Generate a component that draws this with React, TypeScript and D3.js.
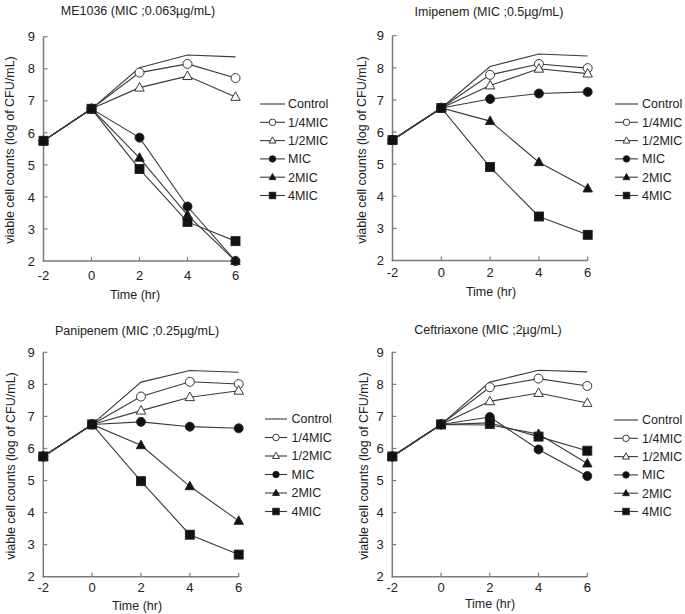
import React from "react";
import * as d3 from "d3";

// ---- data ----
const times = [-2, 0, 2, 4, 6];
const seriesNames = ["Control", "1/4MIC", "1/2MIC", "MIC", "2MIC", "4MIC"];
const xTicks = [-2, 0, 2, 4, 6];
const yTicks = [2, 3, 4, 5, 6, 7, 8, 9];

const titles = [
  "ME1036 (MIC ;0.063µg/mL)",
  "Imipenem (MIC ;0.5µg/mL)",
  "Panipenem (MIC ;0.25µg/mL)",
  "Ceftriaxone (MIC ;2µg/mL)",
];

const me1036 = [
  [5.75, 6.75, 8.03, 8.43, 8.37],
  [5.75, 6.75, 7.88, 8.15, 7.71],
  [5.75, 6.75, 7.41, 7.77, 7.12],
  [5.75, 6.75, 5.85, 3.7, 2.0],
  [5.75, 6.75, 5.22, 3.43, 2.0],
  [5.75, 6.75, 4.87, 3.22, 2.62],
];
const imipenem = [
  [5.75, 6.75, 8.04, 8.43, 8.37],
  [5.75, 6.75, 7.78, 8.12, 7.99],
  [5.75, 6.75, 7.45, 7.97, 7.82],
  [5.75, 6.75, 7.03, 7.2, 7.25],
  [5.75, 6.75, 6.34, 5.06, 4.24],
  [5.75, 6.75, 4.91, 3.37, 2.8],
];
const panipenem = [
  [5.75, 6.75, 8.07, 8.43, 8.38],
  [5.75, 6.75, 7.62, 8.08, 8.01],
  [5.75, 6.75, 7.18, 7.6, 7.8],
  [5.75, 6.75, 6.83, 6.68, 6.63],
  [5.75, 6.75, 6.1, 4.82, 3.74],
  [5.75, 6.75, 4.98, 3.31, 2.69],
];
const ceftriaxone = [
  [5.75, 6.75, 8.07, 8.44, 8.39],
  [5.75, 6.75, 7.91, 8.18, 7.95],
  [5.75, 6.75, 7.47, 7.73, 7.42],
  [5.75, 6.75, 6.98, 5.97, 5.14],
  [5.75, 6.75, 6.73, 6.45, 5.53],
  [5.75, 6.75, 6.8, 6.37, 5.93],
];
const datasets = [me1036, imipenem, panipenem, ceftriaxone];

// ---- layout (per panel) ----
type Layout = {
  x0: number; x1: number; yTop: number; yBot: number;
  titleX: number; titleY: number;
  tickLabelY: number; timeX: number; timeY: number;
  yLabelX: number; yLabelY: number;
  legLine0: number; legLine1: number; legText: number; legY: number; legStep: number;
};

const layouts: Layout[] = [
  { x0: 43.5, x1: 235.5, yTop: 36.7, yBot: 261, titleX: 138, titleY: 14.5, tickLabelY: 279.5, timeX: 135, timeY: 298.5, yLabelX: 13.5, yLabelY: 150, legLine0: 260, legLine1: 285, legText: 288, legY: 104, legStep: 18.3 },
  { x0: 392.5, x1: 587.7, yTop: 35.7, yBot: 260.5, titleX: 489, titleY: 15.5, tickLabelY: 276.5, timeX: 491, timeY: 295.5, yLabelX: 366, yLabelY: 150, legLine0: 615, legLine1: 638, legText: 642, legY: 104, legStep: 18.3 },
  { x0: 43.3, x1: 238.7, yTop: 352.3, yBot: 576.7, titleX: 137, titleY: 334.5, tickLabelY: 591.5, timeX: 137, timeY: 609.5, yLabelX: 14.5, yLabelY: 466, legLine0: 265, legLine1: 287, legText: 291.5, legY: 419, legStep: 18.5 },
  { x0: 392.3, x1: 587.3, yTop: 352.3, yBot: 576.7, titleX: 488, titleY: 333.5, tickLabelY: 591.5, timeX: 490, timeY: 607.5, yLabelX: 367.5, yLabelY: 466, legLine0: 614, legLine1: 638, legText: 642, legY: 420, legStep: 18.3 },
];

const FONT = "'Liberation Sans', Arial, Helvetica, sans-serif";
const LINE = "#3a3a3a";
const AXIS = "#7a7a7a";

function Marker({ kind, x, y, s }: { kind: number; x: number; y: number; s: number }) {
  // kind: 1 open circle, 2 open triangle, 3 filled circle, 4 filled triangle, 5 filled square
  if (kind === 0) return null;
  const filled = kind >= 3;
  const fill = filled ? "#111" : "#fff";
  const stroke = "#222";
  if (kind === 1 || kind === 3) {
    return <circle cx={x} cy={y} r={s * 0.5} fill={fill} stroke={stroke} strokeWidth={0.9} />;
  }
  if (kind === 2 || kind === 4) {
    const h = s * 0.95;
    const w = s * 1.05;
    const pts = `${x},${y - h * 0.6} ${x - w / 2},${y + h * 0.4} ${x + w / 2},${y + h * 0.4}`;
    return <polygon points={pts} fill={fill} stroke={stroke} strokeWidth={0.9} />;
  }
  return <rect x={x - s / 2} y={y - s / 2} width={s} height={s} fill={fill} stroke={stroke} strokeWidth={0.9} />;
}

function Panel({ idx }: { idx: number }) {
  const L = layouts[idx];
  const data = datasets[idx];
  const x = d3.scaleLinear().domain([-2, 6]).range([L.x0, L.x1]);
  const y = d3.scaleLinear().domain([2, 9]).range([L.yBot, L.yTop]);
  const line = d3
    .line<number>()
    .x((_, i) => x(times[i]))
    .y((v) => y(v));

  return (
    <g>
      <text x={L.titleX} y={L.titleY} textAnchor="middle" fontSize={12.5} fontFamily={FONT} fill="#222">
        {titles[idx]}
      </text>
      {/* axes */}
      <line x1={x(-2)} x2={x(-2)} y1={y(9)} y2={y(2) + 0.75} stroke={AXIS} strokeWidth={1.5} />
      <line x1={x(-2) - 0.75} x2={x(6)} y1={y(2)} y2={y(2)} stroke={AXIS} strokeWidth={1.5} />
      {yTicks.map((t) => (
        <g key={"y" + t}>
          {t !== 2 && <line x1={x(-2)} x2={x(-2) + 4} y1={y(t)} y2={y(t)} stroke={AXIS} strokeWidth={1.2} />}
          <text x={x(-2) - 8.5} y={y(t) + 4.7} textAnchor="end" fontSize={13} fontFamily={FONT} fill="#222">
            {t}
          </text>
        </g>
      ))}
      {xTicks.map((t) => (
        <g key={"x" + t}>
          {t !== -2 && <line x1={x(t)} x2={x(t)} y1={y(2)} y2={y(2) - 4} stroke={AXIS} strokeWidth={1.2} />}
          <text x={x(t)} y={L.tickLabelY} textAnchor="middle" fontSize={13} fontFamily={FONT} fill="#222">
            {t}
          </text>
        </g>
      ))}
      <text x={L.timeX} y={L.timeY} textAnchor="middle" fontSize={12.5} fontFamily={FONT} fill="#222">
        Time (hr)
      </text>
      <text
        transform={`translate(${L.yLabelX},${L.yLabelY}) rotate(-90)`}
        textAnchor="middle"
        fontSize={12.5}
        fontFamily={FONT}
        fill="#222"
      >
        viable cell counts (log of CFU/mL)
      </text>
      {/* series lines */}
      {data.map((vals, si) => (
        <path key={"l" + si} d={line(vals) || ""} fill="none" stroke={LINE} strokeWidth={1.1} />
      ))}
      {/* markers */}
      {data.map((vals, si) =>
        si === 0
          ? null
          : vals.map((v, i) => <Marker key={"m" + si + "-" + i} kind={si} x={x(times[i])} y={y(v)} s={9} />)
      )}
      {/* legend */}
      {seriesNames.map((name, si) => {
        const ly = L.legY + si * L.legStep;
        return (
          <g key={"leg" + si}>
            <line x1={L.legLine0} x2={L.legLine1} y1={ly} y2={ly} stroke={LINE} strokeWidth={1.1} />
            <Marker kind={si} x={(L.legLine0 + L.legLine1) / 2} y={ly} s={6.5} />
            <text x={L.legText} y={ly + 4.3} fontSize={12.5} fontFamily={FONT} fill="#222">
              {name}
            </text>
          </g>
        );
      })}
    </g>
  );
}

export default function App() {
  return (
    <svg
      width={685}
      height={614}
      style={{ position: "absolute", left: 0, top: 0, background: "#fff" }}
    >
      <rect width={685} height={614} fill="#fff" />
      {[0, 1, 2, 3].map((i) => (
        <Panel key={i} idx={i} />
      ))}
    </svg>
  );
}
